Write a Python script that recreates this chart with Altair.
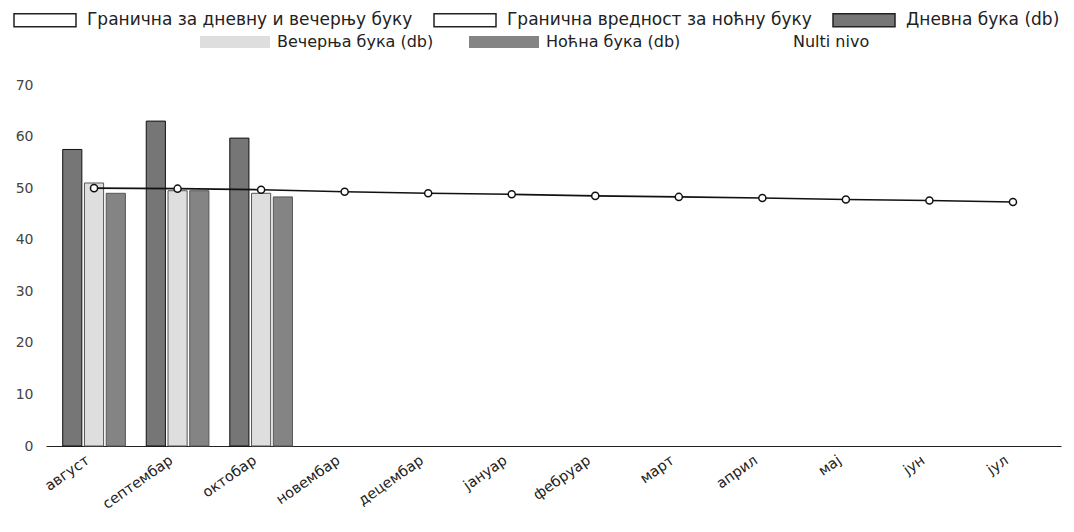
import altair as alt
import pandas as pd

months = ["август", "септембар", "октобар", "новембар", "децембар", "јануар",
          "фебруар", "март", "април", "мај", "јун", "јул"]

day_name = "Дневна бука (db)"
eve_name = "Вечерња бука (db)"
night_name = "Ноћна бука (db)"
lim1_name = "Гранична за дневну и вечерњу буку"
lim2_name = "Гранична вредност за ноћну буку"
nulti_name = "Nulti nivo"

bar_months = ["август", "септембар", "октобар"]
day_vals = [57.5, 63.0, 59.7]
eve_vals = [51.0, 49.5, 49.0]
night_vals = [49.0, 49.5, 48.3]
nulti_vals = [50.0, 49.9, 49.7, 49.3, 49.0, 48.8, 48.5, 48.3, 48.1, 47.8, 47.6, 47.3]

FONT = "DejaVu Sans"

df_day = pd.DataFrame({"month": bar_months, "value": day_vals, "series": day_name})
df_en = pd.concat([
    pd.DataFrame({"month": bar_months, "value": eve_vals, "series": eve_name}),
    pd.DataFrame({"month": bar_months, "value": night_vals, "series": night_name}),
])
df_line = pd.DataFrame({"month": months, "value": nulti_vals})

x_enc = alt.X("month:N", sort=months,
              scale=alt.Scale(domain=months, paddingInner=0.25),
              axis=alt.Axis(title=None, labelAngle=-35, ticks=False, domainColor="#222",
                            domainWidth=1, labelFont=FONT, labelFontSize=14.5,
                            labelColor="#222", labelPadding=7, labelOffset=-10,
                            grid=False))
y_enc = alt.Y("value:Q", scale=alt.Scale(domain=[0, 70], nice=False),
              axis=alt.Axis(title=None, values=[0, 10, 20, 30, 40, 50, 60, 70],
                            ticks=False, domain=False, grid=False, labelFont=FONT,
                            labelFontSize=14, labelColor="#444", labelPadding=13))
xoff = alt.XOffset("series:N", scale=alt.Scale(domain=[day_name, eve_name, night_name],
                                                 paddingInner=0.12))

legend_row1 = alt.Legend(title=None, orient="none", direction="horizontal",
                         legendX=-12, legendY=-76, padding=0,
                         symbolType="M-3.1,-0.65H3.1V0.65H-3.1Z", symbolSize=400,
                         symbolStrokeColor="#222", symbolStrokeWidth=1.5,
                         labelOffset=31, labelFont=FONT, labelFontSize=17,
                         labelColor="#222", labelLimit=600, columnPadding=18)
legend_row2 = alt.Legend(title=None, orient="none", direction="horizontal",
                         legendX=179, legendY=-53, padding=0,
                         symbolType="M-3.5,-0.6H3.5V0.6H-3.5Z", symbolSize=400,
                         symbolStrokeWidth=0,
                         labelOffset=32, labelFont=FONT, labelFontSize=16,
                         labelColor="#222", labelLimit=600, columnPadding=35)

bars_day = alt.Chart(df_day).mark_bar(stroke="#111", strokeWidth=1).encode(
    x=x_enc, y=y_enc, xOffset=xoff,
    color=alt.Color("series:N",
                    scale=alt.Scale(domain=[lim1_name, lim2_name, day_name],
                                    range=["#ffffff", "#ffffff", "#767676"]),
                    legend=legend_row1),
)

bars_en = alt.Chart(df_en).mark_bar(stroke="#555", strokeWidth=1).encode(
    x=x_enc, y=y_enc, xOffset=xoff,
    color=alt.Color("series:N",
                    scale=alt.Scale(domain=[eve_name, night_name, nulti_name],
                                    range=["#dedede", "#848484", "#ffffff"]),
                    legend=legend_row2),
)

line = alt.Chart(df_line).mark_line(
    color="#111", strokeWidth=1.6,
    point=alt.OverlayMarkDef(filled=False, fill="white", stroke="#111",
                             strokeWidth=1.5, size=50)
).encode(x=x_enc, y=y_enc)

chart = alt.layer(bars_day, bars_en, line).resolve_scale(color="independent").properties(
    width=1015, height=361,
    autosize=alt.AutoSizeParams(type="none"),
    padding={"left": 38, "top": 77, "right": 4, "bottom": 78},
    background="white",
).configure_view(stroke=None)

chart.save("out.html", embed_options={"renderer": "svg", "actions": False})
